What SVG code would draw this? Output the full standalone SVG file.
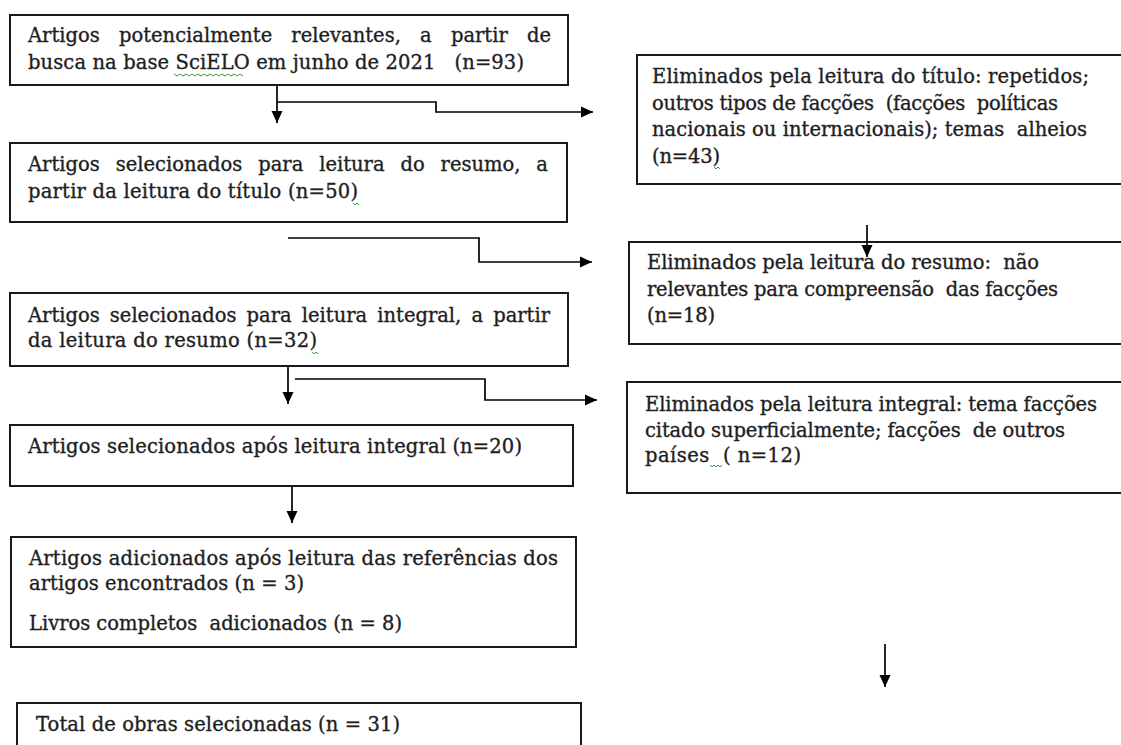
<svg xmlns="http://www.w3.org/2000/svg" width="1121" height="745" viewBox="0 0 1121 745">
<style>
.box{fill:#fff;stroke:#1a1a1a;stroke-width:2}
.t{font-family:"DejaVu Serif","Liberation Serif",serif;font-size:19.5px;fill:#1e1e1e;stroke:#1e1e1e;stroke-width:0.35}
.ln{fill:none;stroke:#000;stroke-width:1.7}
.sq{fill:none;stroke:#3a9a3a;stroke-width:1}
</style>
<defs>
<marker id="arr" markerUnits="userSpaceOnUse" markerWidth="14" markerHeight="12" refX="12" refY="6" orient="auto">
<path d="M0,0.5 L12,6 L0,11.5 z" fill="#000"/>
</marker>
</defs>
<rect width="1121" height="745" fill="#fff"/>

<g id="n1">
<rect class="box" x="10" y="15" width="558" height="70"/>
<text class="t" x="28" y="42" textLength="523" lengthAdjust="spacing" word-spacing="13">Artigos potencialmente relevantes, a partir de</text>
<text class="t" x="28" y="69" textLength="496" lengthAdjust="spacing" xml:space="preserve">busca na base SciELO em junho de 2021   (n=93)</text>
<path class="sq" d="M174,74 l3,2 l3,-2 l3,2 l3,-2 l3,2 l3,-2 l3,2 l3,-2 l3,2 l3,-2 l3,2 l3,-2 l3,2 l3,-2 l3,2 l3,-2 l3,2 l3,-2 l3,2 l3,-2 l3,2 l3,-2 l3,2"/>
</g>

<g id="n2">
<rect class="box" x="10" y="143" width="557" height="79"/>
<text class="t" x="28" y="171" textLength="520" lengthAdjust="spacing" word-spacing="9.7">Artigos selecionados para leitura do resumo, a</text>
<text class="t" x="28" y="198" textLength="330" lengthAdjust="spacing">partir da leitura do título (n=50)</text>
<path class="sq" d="M353,203 l2,2 l2,-2 l2,2"/>
</g>

<g id="n3">
<rect class="box" x="10" y="293" width="558" height="73"/>
<text class="t" x="28" y="322" textLength="522" lengthAdjust="spacing" word-spacing="3.9">Artigos selecionados para leitura integral, a partir</text>
<text class="t" x="28" y="347" textLength="289" lengthAdjust="spacing">da leitura do resumo (n=32)</text>
<path class="sq" d="M312,352 l2,2 l2,-2 l2,2"/>
</g>

<g id="n4">
<rect class="box" x="10" y="425" width="563" height="61"/>
<text class="t" x="28" y="453" textLength="494" lengthAdjust="spacing">Artigos selecionados após leitura integral (n=20)</text>
</g>

<g id="n5">
<rect class="box" x="11" y="537" width="565" height="110"/>
<text class="t" x="29" y="565" textLength="529" lengthAdjust="spacing">Artigos adicionados após leitura das referências dos</text>
<text class="t" x="29" y="590" textLength="275" lengthAdjust="spacing">artigos encontrados (n = 3)</text>
<text class="t" x="29" y="630" textLength="373" lengthAdjust="spacing" xml:space="preserve">Livros completos  adicionados (n = 8)</text>
</g>

<g id="n6">
<rect class="box" x="17" y="703" width="564" height="60"/>
<text class="t" x="36" y="731" textLength="364" lengthAdjust="spacing">Total de obras selecionadas (n = 31)</text>
</g>

<g id="e1">
<rect class="box" x="637" y="55" width="500" height="129"/>
<text class="t" x="652" y="83" textLength="437" lengthAdjust="spacing">Eliminados pela leitura do título: repetidos;</text>
<text class="t" x="652" y="110" textLength="406" lengthAdjust="spacing" xml:space="preserve">outros tipos de facções  (facções  políticas</text>
<text class="t" x="652" y="136" textLength="435" lengthAdjust="spacing" xml:space="preserve">nacionais ou internacionais); temas  alheios</text>
<text class="t" x="652" y="163" textLength="68" lengthAdjust="spacing">(n=43)</text>
<path class="sq" d="M714,167 l2,2 l2,-2 l2,2"/>
</g>

<g id="e2">
<rect class="box" x="629" y="242" width="500" height="102"/>
<text class="t" x="647" y="269" textLength="392" lengthAdjust="spacing" xml:space="preserve">Eliminados pela leitura do resumo:  não</text>
<text class="t" x="647" y="296" textLength="411" lengthAdjust="spacing" xml:space="preserve">relevantes para compreensão  das facções</text>
<text class="t" x="647" y="322" textLength="68" lengthAdjust="spacing">(n=18)</text>
</g>

<g id="e3">
<rect class="box" x="627" y="382" width="500" height="111"/>
<text class="t" x="645" y="411" textLength="452" lengthAdjust="spacing">Eliminados pela leitura integral: tema facções</text>
<text class="t" x="645" y="437" textLength="420" lengthAdjust="spacing" xml:space="preserve">citado superficialmente; facções  de outros</text>
<text class="t" x="645" y="462" textLength="156" lengthAdjust="spacing" xml:space="preserve">países  ( n=12)</text>
<path class="sq" d="M710,465 l2,2 l2,-2 l2,2 l2,-2 l2,2 l2,-2"/>
</g>

<g id="connectors">
<path class="ln" d="M277,86 V123" marker-end="url(#arr)"/>
<path class="ln" d="M277,102 H436 V112 H593" marker-end="url(#arr)"/>
<path class="ln" d="M288,238 H479 V262 H592" marker-end="url(#arr)"/>
<path class="ln" d="M867,225 V257" marker-end="url(#arr)"/>
<path class="ln" d="M288,367 V404" marker-end="url(#arr)"/>
<path class="ln" d="M295,379 H485 V400 H597" marker-end="url(#arr)"/>
<path class="ln" d="M292,487 V523" marker-end="url(#arr)"/>
<path class="ln" d="M885,644 V687" marker-end="url(#arr)"/>
</g>
</svg>
